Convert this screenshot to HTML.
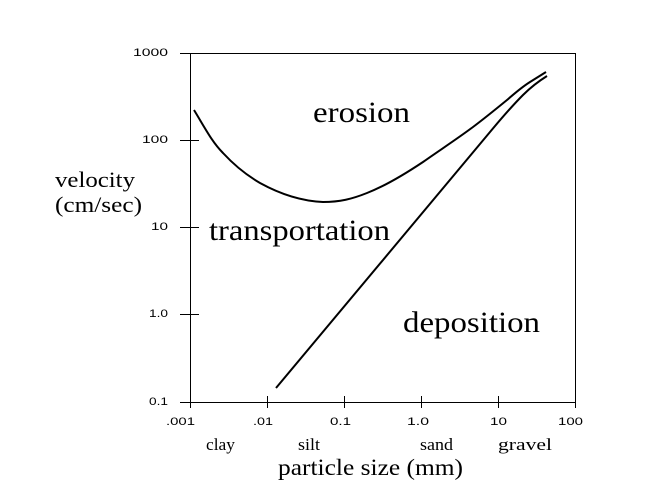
<!DOCTYPE html>
<html><head><style>
body{margin:0;background:#fff;}
svg{display:block}
.t{font-family:"Liberation Serif",serif;fill:#000}
.s{font-family:"Liberation Sans",sans-serif;font-size:11px;fill:#000}
</style></head><body>
<svg width="650" height="488" viewBox="0 0 650 488">
<g stroke="#000" stroke-width="1" fill="none">
<rect x="190.5" y="53.5" width="385" height="349"/>
<line x1="180" y1="53.5" x2="199" y2="53.5"/>
<line x1="180" y1="140.5" x2="199" y2="140.5"/>
<line x1="180" y1="227.5" x2="199" y2="227.5"/>
<line x1="180" y1="314.5" x2="199" y2="314.5"/>
<line x1="180" y1="402.5" x2="199" y2="402.5"/>
<line x1="190.5" y1="396" x2="190.5" y2="408"/>
<line x1="267.5" y1="396" x2="267.5" y2="408"/>
<line x1="344.5" y1="396" x2="344.5" y2="408"/>
<line x1="421.5" y1="396" x2="421.5" y2="408"/>
<line x1="498.5" y1="396" x2="498.5" y2="408"/>
<line x1="575.5" y1="396" x2="575.5" y2="408"/>
</g>
<g stroke="#000" stroke-width="2" fill="none">
<path d="M194,110 C205,128 212,142 223,153 C235,166 248,176 260,183 C280,194 300,201 323,202 C340,202 352,199 367,193 C385,186 405,174 423,162 C440,150 457,139 473,127 C485,118 496,109 507,100 C515,93 522,87 530,82 L546,72"/>
<path d="M276,388 L490,132 C500,120 512,106 523,95 C531,87 539,81 547,76"/>
</g>
<g class="s" text-anchor="end">
<text x="168" y="56" textLength="35" lengthAdjust="spacingAndGlyphs">1000</text>
<text x="168" y="143" textLength="26" lengthAdjust="spacingAndGlyphs">100</text>
<text x="168" y="230" textLength="17" lengthAdjust="spacingAndGlyphs">10</text>
<text x="168" y="317" textLength="19" lengthAdjust="spacingAndGlyphs">1.0</text>
<text x="168" y="405" textLength="19" lengthAdjust="spacingAndGlyphs">0.1</text>
</g>
<g class="s">
<text x="166" y="425" textLength="29" lengthAdjust="spacingAndGlyphs">.001</text>
<text x="253" y="425" textLength="20" lengthAdjust="spacingAndGlyphs">.01</text>
<text x="330" y="425" textLength="21" lengthAdjust="spacingAndGlyphs">0.1</text>
<text x="407" y="425" textLength="22" lengthAdjust="spacingAndGlyphs">1.0</text>
<text x="490" y="425" textLength="17" lengthAdjust="spacingAndGlyphs">10</text>
<text x="558" y="425" textLength="25" lengthAdjust="spacingAndGlyphs">100</text>
</g>
<text class="t" x="313" y="122" font-size="30" textLength="97" lengthAdjust="spacingAndGlyphs">erosion</text>
<text class="t" x="209" y="240" font-size="30" textLength="181" lengthAdjust="spacingAndGlyphs">transportation</text>
<text class="t" x="403" y="332" font-size="30" textLength="137" lengthAdjust="spacingAndGlyphs">deposition</text>
<text class="t" x="55" y="187" font-size="22" textLength="80" lengthAdjust="spacingAndGlyphs">velocity</text>
<text class="t" x="55" y="212" font-size="22" textLength="87" lengthAdjust="spacingAndGlyphs">(cm/sec)</text>
<g class="t" font-size="17">
<text x="206" y="450" textLength="29" lengthAdjust="spacingAndGlyphs">clay</text>
<text x="298" y="450" textLength="22" lengthAdjust="spacingAndGlyphs">silt</text>
<text x="420" y="450" textLength="33" lengthAdjust="spacingAndGlyphs">sand</text>
<text x="498" y="450" textLength="54" lengthAdjust="spacingAndGlyphs">gravel</text>
</g>
<text class="t" x="278" y="475" font-size="23" textLength="185" lengthAdjust="spacingAndGlyphs">particle size (mm)</text>
</svg>
</body></html>
